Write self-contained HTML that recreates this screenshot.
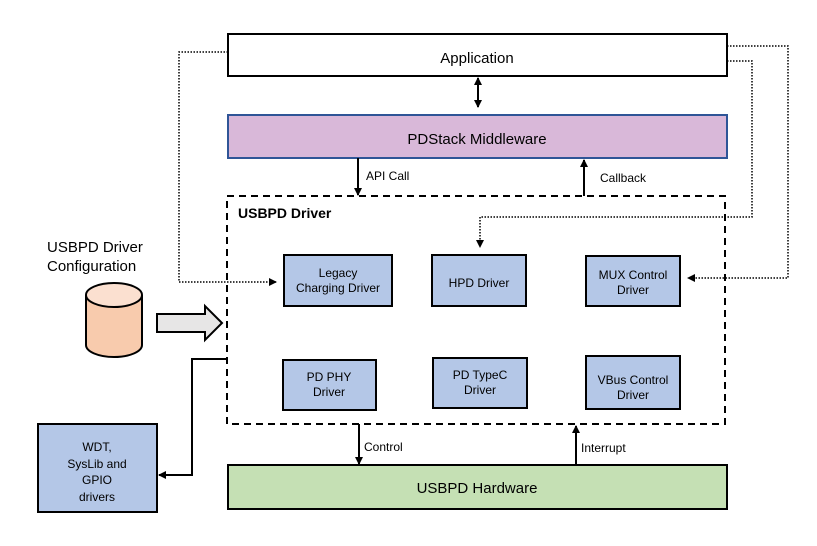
<!DOCTYPE html>
<html><head><meta charset="utf-8"><style>
html,body{margin:0;padding:0;background:#fff}
svg{display:block;font-family:"Liberation Sans",sans-serif}
</style></head><body>
<svg width="817" height="546" viewBox="0 0 817 546" xmlns="http://www.w3.org/2000/svg">
<defs>
<marker id="a" markerWidth="8" markerHeight="8" refX="7" refY="4" orient="auto" markerUnits="userSpaceOnUse"><path d="M0,0 L8,4 L0,8 z" fill="#000"/></marker>
</defs>
<rect width="817" height="546" fill="#fff"/>
<!-- dotted connectors -->
<g fill="none" stroke="#000" stroke-width="1.5" stroke-dasharray="1.5,1.5">
<path d="M228,52 H179 V282 H276" marker-end="url(#a)"/>
<path d="M727,46 H788 V278 H688" marker-end="url(#a)"/>
<path d="M727,61 H752 V217 H480 V247" marker-end="url(#a)"/>
</g>
<!-- boxes -->
<rect x="228" y="34" width="499" height="42" fill="#fff" stroke="#000" stroke-width="2"/>
<text x="477" y="63" font-size="15" text-anchor="middle">Application</text>
<rect x="228" y="115" width="499" height="43" fill="#d9b8d9" stroke="#2f5597" stroke-width="2"/>
<text x="477" y="144" font-size="15" text-anchor="middle">PDStack Middleware</text>
<rect x="227" y="196" width="498" height="228" fill="none" stroke="#000" stroke-width="2" stroke-dasharray="7,5"/>
<text x="238" y="218" font-size="14" font-weight="bold">USBPD Driver</text>
<rect x="228" y="465" width="499" height="44" fill="#c5e0b4" stroke="#000" stroke-width="2"/>
<text x="477" y="493" font-size="15" text-anchor="middle">USBPD Hardware</text>
<g fill="#b4c7e7" stroke="#000" stroke-width="2">
<rect x="284" y="255" width="108" height="51"/>
<rect x="432" y="255" width="94" height="51"/>
<rect x="586" y="256" width="94" height="50"/>
<rect x="283" y="360" width="93" height="50"/>
<rect x="433" y="358" width="94" height="50"/>
<rect x="586" y="356" width="94" height="53"/>
<rect x="38" y="424" width="119" height="88"/>
</g>
<g font-size="12" text-anchor="middle">
<text x="338" y="277">Legacy</text><text x="338" y="292">Charging Driver</text>
<text x="479" y="287">HPD Driver</text>
<text x="633" y="279">MUX Control</text><text x="633" y="294">Driver</text>
<text x="329" y="381">PD PHY</text><text x="329" y="396">Driver</text>
<text x="480" y="379">PD TypeC</text><text x="480" y="394">Driver</text>
<text x="633" y="384">VBus Control</text><text x="633" y="399">Driver</text>
<text x="97" y="451">WDT,</text><text x="97" y="468">SysLib and</text><text x="97" y="484">GPIO</text><text x="97" y="501">drivers</text>
</g>
<!-- solid arrows -->
<g fill="none" stroke="#000" stroke-width="2">
<path d="M478,84 V107" marker-end="url(#a)"/>
<path d="M478,100 V78" marker-end="url(#a)"/>
<path d="M358,158 V195" marker-end="url(#a)"/>
<path d="M584,196 V160" marker-end="url(#a)"/>
<path d="M359,424 V464" marker-end="url(#a)"/>
<path d="M576,465 V426" marker-end="url(#a)"/>
<path d="M227,359 H192 V475 H159" marker-end="url(#a)"/>
</g>
<g font-size="12">
<text x="366" y="180">API Call</text>
<text x="600" y="182">Callback</text>
<text x="364" y="451">Control</text>
<text x="581" y="452">Interrupt</text>
</g>
<text x="47" y="252" font-size="15">USBPD Driver</text>
<text x="47" y="271" font-size="15">Configuration</text>
<!-- cylinder -->
<path d="M86,295 V345 A28,12 0 0 0 142,345 V295" fill="#f8cbad" stroke="#000" stroke-width="2"/>
<ellipse cx="114" cy="295" rx="28" ry="12" fill="#fbe0d0" stroke="#000" stroke-width="2"/>
<!-- block arrow -->
<path d="M157,314 H205 V306 L222,323 L205,340 V332 H157 Z" fill="#e7e6e6" stroke="#000" stroke-width="2"/>
</svg>
</body></html>
